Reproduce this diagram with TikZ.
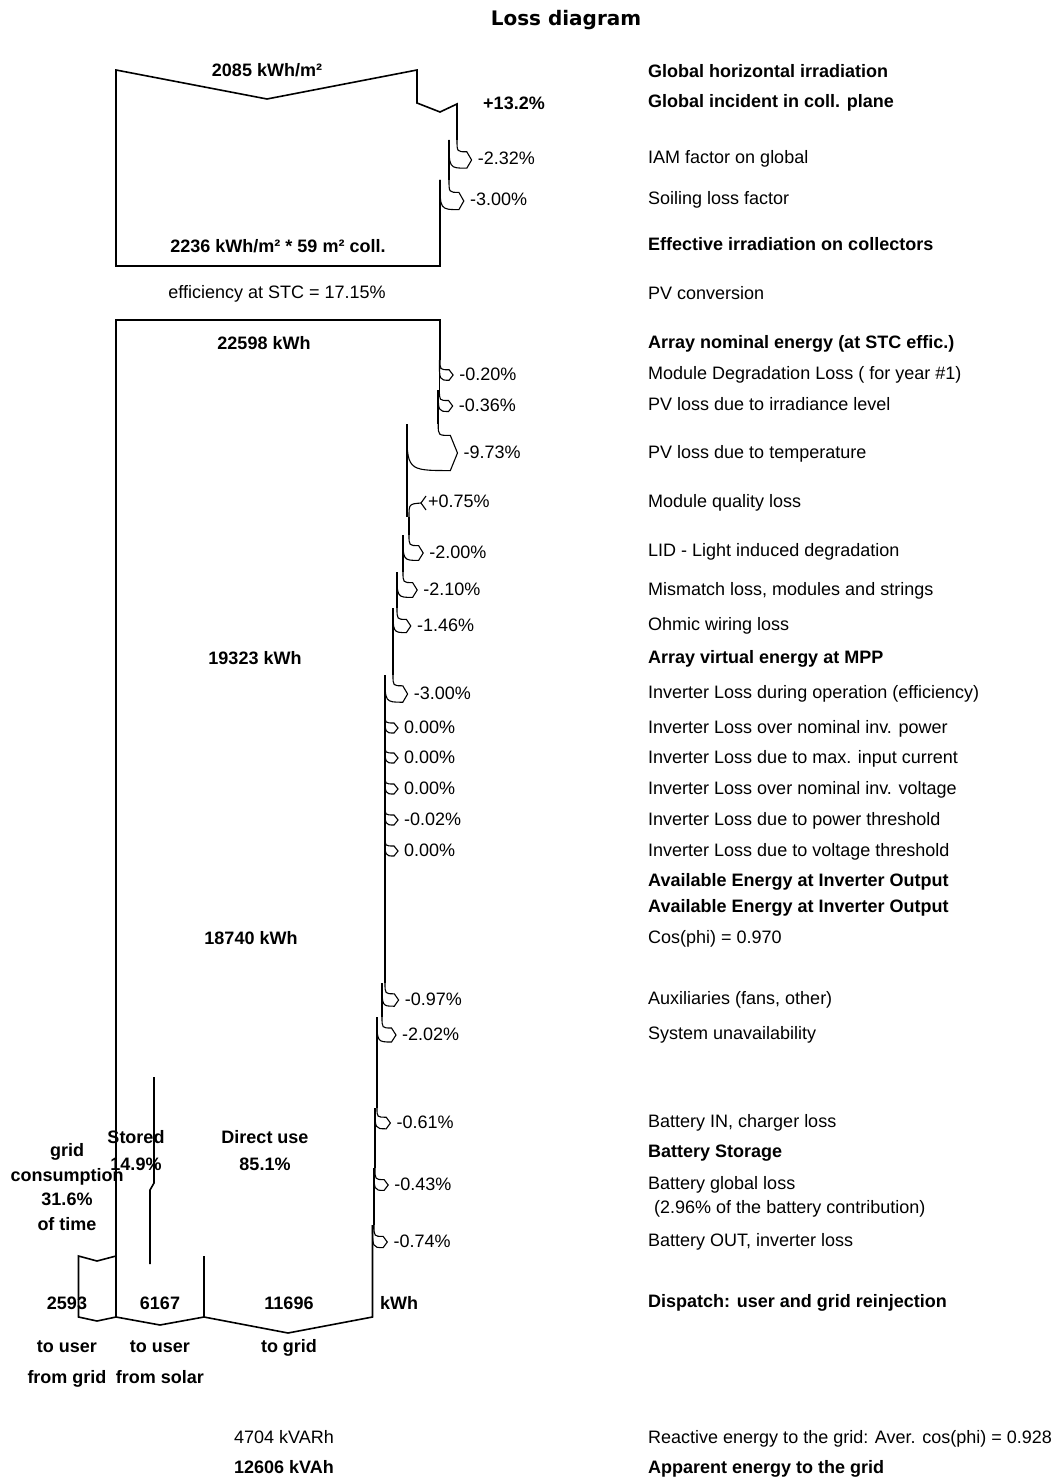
\documentclass[tikz,border=0pt]{standalone}
\usepackage{fontspec}
\setmainfont{Liberation Sans}
\newfontfamily\titlefont{DejaVu Sans}
\usetikzlibrary{positioning}

% loss arrow: name, old edge x, new edge x, start y, tip y, label
\newcommand{\lossarrow}[6]{%
  \pgfmathsetmacro{\lw}{#2-#3}%
  \pgfmathsetmacro{\lhw}{5+0.4*\lw}%
  \pgfmathsetmacro{\lxc}{#2+9+0.1*\lw}%
  \pgfmathsetmacro{\lxt}{\lxc+4+0.1*\lw}%
  \draw[lossline] (#2,#4) .. controls (#2,#5-\lhw) .. (\lxc,#5-\lhw) -- (\lxt,#5) -- (\lxc,#5+\lhw) .. controls (#3,#5+\lhw) .. (#3,#4);
  \node[desc, xshift=5pt] (#1) at (\lxt,#5) {#6};
}

\begin{document}
\begin{tikzpicture}[
    x=1pt, y=-1pt,
    flow/.style={line width=1.6pt, line join=miter},
    lossline/.style={line width=1.1pt},
    txt/.style={font=\fontsize{18}{22}\selectfont, inner sep=1pt},
    btxt/.style={txt, font=\fontsize{18}{22}\selectfont\bfseries},
    desc/.style={txt, anchor=west, text height=14pt, text depth=4pt},
    bdesc/.style={btxt, anchor=west, text height=14pt, text depth=4pt}
]
\useasboundingbox (0,0) rectangle (1054,1479);
\node[font=\titlefont\bfseries\fontsize{20}{24}\selectfont] (title) at (566,20) {Loss diagram};

% irradiation
\draw[flow] (440,180) -- (440,266) -- (116,266) -- (116,70) -- (267,99) -- (417,70) -- (417,103) -- (440,112) -- (457,104) -- (457,140);
\draw[flow] (449,140) -- (449,180);
\node[btxt] (ghi) at (267,70) {2085 kWh/m²};
\node[btxt] (incid) at (514,103) {+13.2\%};
\lossarrow{iam}{457}{449}{140}{160}{-2.32\%}
\lossarrow{soil}{449}{440}{180}{201}{-3.00\%}
\node[btxt] (effirr) at (278,246) {2236 kWh/m² * 59 m² coll.};
\node[txt] (stc) at (277,294) {efficiency at STC = 17.15\%};

% energy
\draw[flow] (440,360) -- (440,320) -- (116,320) -- (116,1317) -- (160,1325) -- (204,1317) -- (288,1333) -- (372.5,1317) -- (372.5,1225);
\draw[flow] (439.4,360) -- (439.4,390) (438.2,390) -- (438.2,424) (406.8,424) -- (406.8,517)
  (409,517) -- (409,535) (403,535) -- (403,572) (397,572) -- (397,608) (393,608) -- (393,675)
  (385,675) -- (385,983) (382,983) -- (382,1017) (377,1017) -- (377,1108) (375,1108) -- (375,1168)
  (374,1168) -- (374,1225);
\lossarrow{deg}{440}{439.4}{360}{375}{-0.20\%}
\lossarrow{irr}{439.4}{438.2}{390}{406}{-0.36\%}
\lossarrow{temp}{438.2}{406.8}{424}{453}{-9.73\%}
\draw[lossline] (409,517) .. controls (409,504) .. (421,503);
\draw[lossline] (426,496) -- (421,503) -- (426,510);
\node[desc] (qual) at (427,502) {+0.75\%};
\lossarrow{lid}{409}{403}{535}{553}{-2.00\%}
\lossarrow{mis}{403}{397}{572}{590}{-2.10\%}
\lossarrow{ohm}{397}{393}{608}{626}{-1.46\%}
\lossarrow{invop}{393}{385}{675}{694}{-3.00\%}
\lossarrow{invpow}{385}{385}{714}{728}{0.00\%}
\lossarrow{invcur}{385}{385}{744}{758}{0.00\%}
\lossarrow{invvolt}{385}{385}{775}{789}{0.00\%}
\lossarrow{invthr}{385}{385}{806}{820}{-0.02\%}
\lossarrow{invvthr}{385}{385}{837}{851}{0.00\%}
\lossarrow{aux}{385}{382}{983}{1000}{-0.97\%}
\lossarrow{unav}{382}{377}{1017}{1035}{-2.02\%}
\lossarrow{batin}{377}{375}{1108}{1123}{-0.61\%}
\lossarrow{batgl}{375}{374}{1168}{1185}{-0.43\%}
\lossarrow{batout}{374}{372.5}{1225}{1242}{-0.74\%}
\node[btxt] (nominal) at (264,343) {22598 kWh};
\node[btxt] (virtual) at (255,658) {19323 kWh};
\node[btxt] (available) at (251,938) {18740 kWh};

% dispatch
\draw[flow] (116,1256) -- (97,1261) -- (78.5,1256) -- (78.5,1317) -- (97,1321) -- (116,1317);
\draw[flow] (154,1077) -- (154,1183) -- (150,1190) -- (150,1264);
\draw[flow] (204,1256) -- (204,1317);
\node[btxt, align=center, font=\fontsize{18}{24.5}\selectfont\bfseries] (gridcons) at (67,1187) {grid\\consumption\\31.6\%\\of time};
\node[btxt, align=center, font=\fontsize{18}{27}\selectfont\bfseries] (stored) at (136,1151) {Stored\\14.9\%};
\node[btxt, align=center, font=\fontsize{18}{27}\selectfont\bfseries] (direct) at (265,1151) {Direct use\\85.1\%};
\node[btxt] (fromgridval) at (67,1303) {2593};
\node[btxt] (fromsolarval) at (160,1303) {6167};
\node[btxt] (togridval) at (289,1303) {11696};
\node[btxt] (unit) at (399,1303) {kWh};
\node[btxt, align=center, font=\fontsize{18}{31}\selectfont\bfseries] (fromgrid) at (67,1364) {to user\\from grid};
\node[btxt, align=center, font=\fontsize{18}{31}\selectfont\bfseries] (fromsolar) at (160,1362) {to user\\from solar};
\node[btxt] (togrid) at (289,1348) {to grid};
\node[desc] (reactive) at (233,1438) {4704 kVARh};
\node[bdesc] (apparent) at (233,1468) {12606 kVAh};

% descriptions
\node[bdesc] (dghi) at (647,73) {Global horizontal irradiation};
\node[bdesc] (dincid) at (647,103) {Global incident in coll. plane};
\node[desc] (diam) at (647,159) {IAM factor on global};
\node[desc] (dsoil) at (647,200) {Soiling loss factor};
\node[bdesc] (deffirr) at (647,246) {Effective irradiation on collectors};
\node[desc] (dconv) at (647,294) {PV conversion};
\node[bdesc] (dnominal) at (647,343) {Array nominal energy (at STC effic.)};
\node[desc] (ddeg) at (647,374) {Module Degradation Loss ( for year \#1)};
\node[desc] (dirr) at (647,405) {PV loss due to irradiance level};
\node[desc] (dtemp) at (647,453) {PV loss due to temperature};
\node[desc] (dqual) at (647,502) {Module quality loss};
\node[desc] (dlid) at (647,551) {LID - Light induced degradation};
\node[desc] (dmis) at (647,590) {Mismatch loss, modules and strings};
\node[desc] (dohm) at (647,625) {Ohmic wiring loss};
\node[bdesc] (dvirtual) at (647,658) {Array virtual energy at MPP};
\node[desc] (dinvop) at (647,693) {Inverter Loss during operation (efficiency)};
\node[desc] (dinvpow) at (647,728) {Inverter Loss over nominal inv. power};
\node[desc] (dinvcur) at (647,758) {Inverter Loss due to max. input current};
\node[desc] (dinvvolt) at (647,789) {Inverter Loss over nominal inv. voltage};
\node[desc] (dinvthr) at (647,820) {Inverter Loss due to power threshold};
\node[desc] (dinvvthr) at (647,851) {Inverter Loss due to voltage threshold};
\node[bdesc] (davail) at (647,881) {Available Energy at Inverter Output};
\node[bdesc] (davailb) at (647,907) {Available Energy at Inverter Output};
\node[desc] (dcos) at (647,938) {Cos(phi) = 0.970};
\node[desc] (daux) at (647,999) {Auxiliaries (fans, other)};
\node[desc] (dunav) at (647,1034) {System unavailability};
\node[desc] (dbatin) at (647,1122) {Battery IN, charger loss};
\node[bdesc] (dbatst) at (647,1152) {Battery Storage};
\node[desc] (dbatgl) at (647,1184) {Battery global loss};
\node[desc] (dbatglb) at (653,1208) {(2.96\% of the battery contribution)};
\node[desc] (dbatout) at (647,1241) {Battery OUT, inverter loss};
\node[bdesc] (ddispatch) at (647,1302) {Dispatch: user and grid reinjection};
\node[desc] (dreactive) at (647,1438) {Reactive energy to the grid: Aver. cos(phi) = 0.928};
\node[bdesc] (dapparent) at (647,1468) {Apparent energy to the grid};
\end{tikzpicture}
\end{document}
